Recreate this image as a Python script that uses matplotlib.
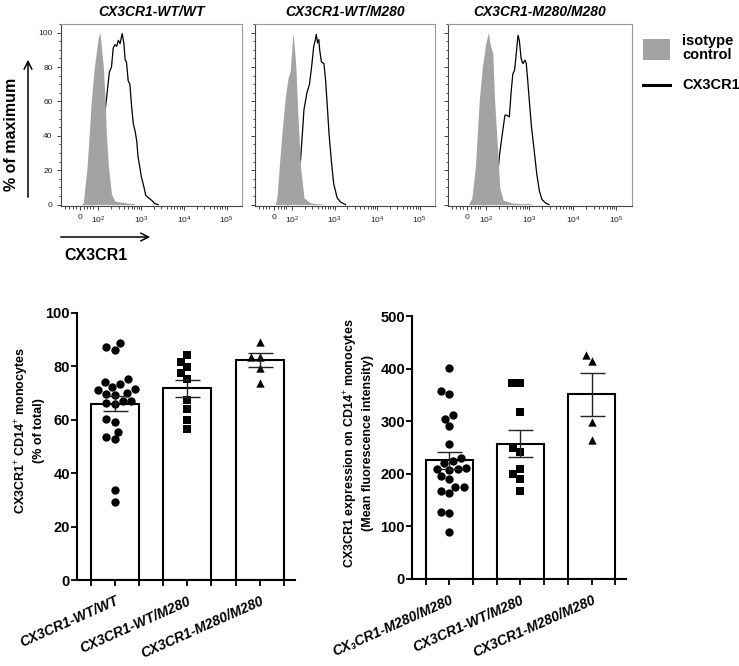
import matplotlib
matplotlib.use("Agg")
import matplotlib.pyplot as plt
from matplotlib.patches import Rectangle, FancyArrowPatch
from matplotlib.lines import Line2D
from matplotlib.ticker import FixedLocator, MultipleLocator
import numpy as np
import seaborn as sns

plt.rcParams['font.family'] = ['Liberation Sans', 'DejaVu Sans']
plt.rcParams['mathtext.fontset'] = 'custom'
plt.rcParams['mathtext.rm'] = 'Liberation Sans'
plt.rcParams['mathtext.bf'] = 'Liberation Sans:bold'
plt.rcParams['mathtext.it'] = 'Liberation Sans:italic'

# ---- data ----
genotypes = ["CX3CR1-WT/WT", "CX3CR1-WT/M280", "CX3CR1-M280/M280"]
mfi_labels = ["CX\u2083CR1-M280/M280", "CX3CR1-WT/M280", "CX3CR1-M280/M280"]

# flow histograms, x in decades (2 = 10^2), y in % of maximum
iso1_x = [1.60, 1.65, 1.74, 1.84, 1.91, 2.00, 2.04, 2.12, 2.16, 2.19, 2.24, 2.31, 2.39, 2.51, 2.82, 2.90]
iso1_y = [0, 1, 22, 61, 80, 97, 100, 80, 61, 41, 22, 6, 2, 1.5, 0.5, 0]
cx1_x = [1.85, 1.95, 2.05, 2.13, 2.19, 2.26, 2.31, 2.35, 2.39, 2.43, 2.47, 2.51, 2.56, 2.60, 2.63,
         2.66, 2.70, 2.74, 2.78, 2.82, 2.86, 2.90, 2.93, 2.97, 3.01, 3.07, 3.11, 3.17, 3.25, 3.32, 3.40]
cx1_y = [0, 8, 25, 48, 61, 77, 80, 91, 93, 92, 95.5, 93.6, 99.4, 93.6, 84,
         83, 72, 70, 57, 47, 43, 37, 28, 22, 16, 10, 5.4, 4, 2.5, 0.6, 0]

iso2_x = [1.61, 1.65, 1.70, 1.76, 1.84, 1.91, 1.96, 2.00, 2.02, 2.06, 2.09, 2.14, 2.20, 2.28, 2.43, 2.63, 2.79]
iso2_y = [0, 5, 22, 41, 62, 74, 78, 92, 100, 90, 80, 51, 22, 4, 1, 0.5, 0]
cx2_x = [1.90, 2.05, 2.15, 2.20, 2.24, 2.28, 2.35, 2.41, 2.46, 2.51, 2.55, 2.57, 2.60, 2.63, 2.65,
         2.69, 2.75, 2.79, 2.83, 2.87, 2.93, 2.98, 3.06, 3.14, 3.26]
cx2_y = [0, 10, 20, 26, 40, 55, 65, 70, 80, 92, 96, 99, 94, 96, 90,
         83, 82, 72, 57, 41, 24, 12, 4, 1.5, 0]

iso3_x = [1.60, 1.68, 1.76, 1.85, 1.92, 2.00, 2.06, 2.10, 2.16, 2.20, 2.27, 2.32, 2.40, 2.60, 2.85, 2.97, 3.09]
iso3_y = [0, 4, 22, 61, 80, 94, 100, 93, 88, 61, 32, 10, 2.5, 1, 0.5, 0.8, 0]
cx3_x = [1.95, 2.10, 2.20, 2.28, 2.32, 2.40, 2.44, 2.48, 2.54, 2.58, 2.62, 2.66, 2.70, 2.74,
         2.77, 2.81, 2.85, 2.90, 2.93, 2.97, 3.01, 3.05, 3.10, 3.17, 3.23, 3.29, 3.37, 3.45]
cx3_y = [0, 8, 14, 20, 30, 45, 52, 52, 51, 65, 76, 78, 88, 98.5,
         95.5, 85, 82, 84, 82, 70, 57, 45, 34, 18, 8, 3, 1, 0]

# % CX3CR1+ CD14+ monocytes
pct_wt_wt = [87.1, 86.1, 88.6, 75.2, 72.2, 71.2, 73.4, 74.0, 71.4, 69.7, 69.2, 69.9,
             67.2, 65.9, 66.4, 67.2, 60.2, 59.2, 55.6, 52.7, 53.4, 33.7, 29.3]
pct_wt_m280 = [84.3, 81.8, 79.6, 77.4, 75.2, 67.4, 63.9, 59.9, 56.7]
pct_m280_m280 = [89.3, 83.6, 83.6, 79.3, 73.9]
pct_mean = [66.1, 71.8, 82.4]
pct_sem = [2.9, 3.2, 2.6]

# MFI of CX3CR1 on CD14+ monocytes
mfi_wt_wt = [402, 358, 352, 305, 311, 291, 257, 230, 224, 220, 210, 210,
             211, 207, 196, 191, 175, 164, 167, 175, 128, 125, 90]
mfi_wt_m280 = [372, 372, 318, 250, 242, 210, 200, 191, 168]
mfi_m280_m280 = [414, 426, 298, 264]
mfi_mean = [226, 257, 351]
mfi_sem = [16, 25.5, 41]

GRAY = '#a3a3a3'
W, H = 739, 666


def fx(px):
    return px / W


def fy(py):
    return 1 - py / H


fig = plt.figure(figsize=(W / 100, H / 100), dpi=100)

# ---- top: flow histograms ----
panels = [(61, 242, iso1_x, iso1_y, cx1_x, cx1_y),
          (255, 435, iso2_x, iso2_y, cx2_x, cx2_y),
          (448, 632, iso3_x, iso3_y, cx3_x, cx3_y)]
minor_x = [1.22, 1.31, 1.40, 1.47, 1.66, 1.74, 1.81, 1.87]
for d in range(2, 5):
    minor_x += list(np.log10(np.arange(2, 10)) + d)

for i, (x0, x1, ix, iy, cx, cy) in enumerate(panels):
    ax = fig.add_axes([fx(x0), fy(206), fx(x1) - fx(x0), fy(24) - fy(206)])
    ax.plot(cx, cy, color='black', lw=0.9, zorder=2)
    ax.fill_between(ix, iy, 0, color=GRAY, lw=0, zorder=3)
    ax.set_xlim(1.13, 5.36)
    ax.set_ylim(-0.8, 105)
    ax.set_xticks([1.57, 2, 3, 4, 5])
    ax.set_xticklabels(['0', '$10^{2}$', '$10^{3}$', '$10^{4}$', '$10^{5}$'])
    ax.xaxis.set_minor_locator(FixedLocator(minor_x))
    ax.set_yticks([0, 20, 40, 60, 80, 100])
    ax.yaxis.set_minor_locator(MultipleLocator(5))
    if i > 0:
        ax.set_yticklabels([])
    ax.tick_params(labelsize=6, colors='#222', length=3, width=0.6, pad=3)
    ax.tick_params(which='minor', length=1.8, width=0.5)
    for s in ax.spines.values():
        s.set_color('#999')
        s.set_linewidth(0.8)
    ax.spines['left'].set_color('#444')
    ax.spines['bottom'].set_color('#444')
    ax.set_title(genotypes[i], fontsize=10, fontweight='bold', fontstyle='italic', pad=6)

fig.text(fx(12), fy(134), '% of maximum', rotation=90, ha='center', va='center',
         fontsize=11.5, fontweight='bold')
fig.add_artist(FancyArrowPatch((fx(28), fy(200)), (fx(28), fy(57)), transform=fig.transFigure,
                               arrowstyle='->', mutation_scale=14, lw=1.1, color='black'))
fig.add_artist(FancyArrowPatch((fx(58), fy(237)), (fx(153), fy(237)), transform=fig.transFigure,
                               arrowstyle='->', mutation_scale=14, lw=1.1, color='black'))
fig.text(fx(96), fy(255), 'CX3CR1', ha='center', va='center', fontsize=11.5, fontweight='bold')

# legend
fig.add_artist(Rectangle((fx(643), fy(60)), fx(670) - fx(643), fy(39) - fy(60),
                         transform=fig.transFigure, facecolor=GRAY, edgecolor='none'))
fig.add_artist(Line2D([fx(643), fx(670)], [fy(85), fy(85)], transform=fig.transFigure,
                      color='black', lw=2.2))
fig.text(fx(682), fy(48), 'isotype\ncontrol', ha='left', va='center', fontsize=10.5,
         fontweight='bold', linespacing=1.0)
fig.text(fx(682), fy(85), 'CX3CR1', ha='left', va='center', fontsize=10.5, fontweight='bold')


# ---- bottom: bar + scatter ----
def bar_scatter(ax, groups, means, sems, labels, yticks, ymax):
    markers = ['o', 's', '^']
    for i, (vals, mk) in enumerate(zip(groups, markers)):
        sns.swarmplot(x=[genotypes[i]] * len(vals), y=vals, order=genotypes, marker=mk,
                      color='black', size=6, ax=ax, zorder=3)
    pos = np.arange(len(means))
    ax.bar(pos, means, width=0.66, color='white', edgecolor='black', lw=1.5, zorder=1)
    ax.errorbar(pos, means, yerr=sems, fmt='none', ecolor='#222', elinewidth=1.0,
                capsize=9, capthick=1.0, zorder=4)
    ax.set_xlim(-0.52, 2.48)
    ax.set_ylim(0, ymax)
    ax.set_yticks(yticks)
    ax.set_xticks(pos)
    ax.set_xticklabels(labels, rotation=24, ha='right', rotation_mode='anchor',
                       fontsize=10, fontweight='bold', fontstyle='italic')
    ax.xaxis.set_minor_locator(FixedLocator(list(pos - 0.33) + list(pos + 0.33)))
    ax.set_xlabel('')
    ax.set_ylabel('')
    for lab in ax.get_yticklabels():
        lab.set_fontweight('bold')
    ax.tick_params(axis='y', labelsize=10.5, length=4, width=1.3, pad=1)
    ax.tick_params(axis='x', which='both', length=4, width=1.3, pad=6)
    ax.spines['top'].set_visible(False)
    ax.spines['right'].set_visible(False)
    ax.spines['left'].set_linewidth(1.5)
    ax.spines['bottom'].set_linewidth(1.5)


ax_pct = fig.add_axes([fx(77), fy(580), fx(295) - fx(77), fy(313) - fy(580)])
bar_scatter(ax_pct, [pct_wt_wt, pct_wt_m280, pct_m280_m280], pct_mean, pct_sem,
            genotypes, [0, 20, 40, 60, 80, 100], 100)
fig.text(fx(29), fy(431), 'CX3CR1$^{+}$ CD14$^{+}$ monocytes\n(% of total)', rotation=90,
         ha='center', va='center', fontsize=9, fontweight='bold', multialignment='center')

ax_mfi = fig.add_axes([fx(412), fy(579), fx(626) - fx(412), fy(316) - fy(579)])
bar_scatter(ax_mfi, [mfi_wt_wt, mfi_wt_m280, mfi_m280_m280], mfi_mean, mfi_sem,
            mfi_labels, [0, 100, 200, 300, 400, 500], 500)
fig.text(fx(358), fy(443), 'CX3CR1 expression on CD14$^{+}$ monocytes\n(Mean fluorescence intensity)',
         rotation=90, ha='center', va='center', fontsize=9, fontweight='bold',
         multialignment='center')

fig.savefig('out.png', dpi=100)
